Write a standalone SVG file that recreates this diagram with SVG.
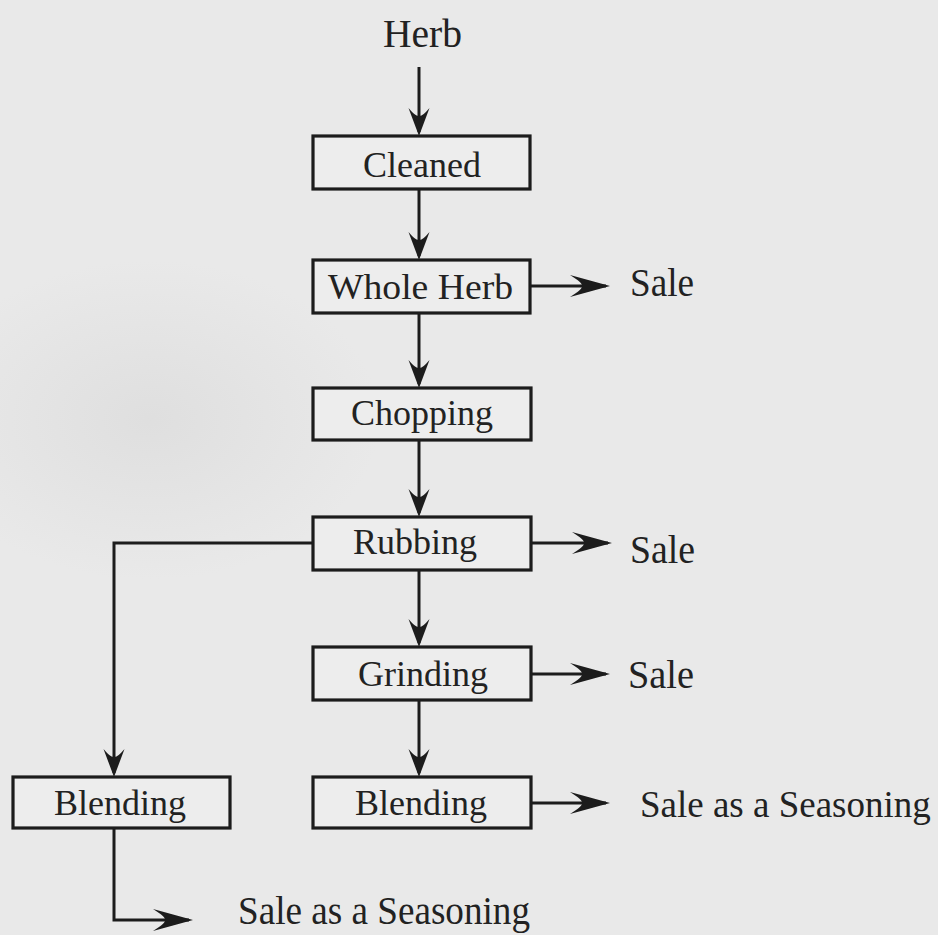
<svg xmlns="http://www.w3.org/2000/svg" width="938" height="935" viewBox="0 0 938 935">
<style>
.bg{fill:#e9e9e9}
.box{fill:#ededed;stroke:#1c1c1c;stroke-width:3.2}
.t{font-family:"Liberation Serif","Times New Roman",serif;font-size:36px;fill:#222}
.o{font-size:40px}
.c{text-anchor:middle}
.ln{fill:none;stroke:#1c1c1c;stroke-width:3}
.v{marker-end:url(#av)}
.h{marker-end:url(#ah)}
</style>
<defs>
<radialGradient id="smudge" cx="0.5" cy="0.5" r="0.5">
<stop offset="0" stop-color="#d8d8d8" stop-opacity="0.6"/>
<stop offset="1" stop-color="#d8d8d8" stop-opacity="0"/>
</radialGradient>
<marker id="av" markerUnits="userSpaceOnUse" orient="auto" refX="-4" refY="0" markerWidth="40" markerHeight="30" overflow="visible">
<path d="M0,0 L-28,-10.5 Q-19,-3 -20,0 Q-19,3 -28,10.5 Z" fill="#1c1c1c"/>
</marker>
<marker id="ah" markerUnits="userSpaceOnUse" orient="auto" refX="-4" refY="0" markerWidth="50" markerHeight="30" overflow="visible">
<path d="M0,0 L-40,-11 Q-27,-3 -28,0 Q-27,3 -40,11 Z" fill="#1c1c1c"/>
</marker>
</defs>
<rect class="bg" x="0" y="0" width="938" height="935"/>
<ellipse cx="150" cy="420" rx="230" ry="160" fill="url(#smudge)"/>

<g id="connectors">
<path class="ln v" d="M419,67 V132"/>
<path class="ln v" d="M419,189 V256"/>
<path class="ln v" d="M419,313 V384"/>
<path class="ln v" d="M419,440 V513"/>
<path class="ln v" d="M419,570 V643"/>
<path class="ln v" d="M419,700 V773"/>
<path class="ln h" d="M530,286 H606"/>
<path class="ln h" d="M531,543 H608"/>
<path class="ln h" d="M531,674 H606"/>
<path class="ln h" d="M531,803 H606"/>
<path class="ln v" d="M313,543 H114 V773"/>
<path class="ln h" d="M114,828 V920 H189"/>
</g>

<g id="herb"><text class="t o" x="383" y="47" textLength="79" lengthAdjust="spacingAndGlyphs">Herb</text></g>
<g id="cleaned"><rect class="box" x="313" y="136" width="217" height="53"/><text class="t c" x="422" y="177">Cleaned</text></g>
<g id="whole-herb"><rect class="box" x="313" y="260" width="217" height="53"/><text class="t" x="328" y="299" textLength="185" lengthAdjust="spacingAndGlyphs">Whole Herb</text></g>
<g id="chopping"><rect class="box" x="313" y="388" width="218" height="52"/><text class="t c" x="422" y="425">Chopping</text></g>
<g id="rubbing"><rect class="box" x="313" y="517" width="218" height="53"/><text class="t c" x="415" y="554">Rubbing</text></g>
<g id="grinding"><rect class="box" x="313" y="647" width="218" height="53"/><text class="t c" x="423" y="686">Grinding</text></g>
<g id="blending-center"><rect class="box" x="313" y="777" width="218" height="51"/><text class="t c" x="421" y="815">Blending</text></g>
<g id="blending-left"><rect class="box" x="13" y="777" width="217" height="51"/><text class="t c" x="120" y="815">Blending</text></g>

<g id="sale-1"><text class="t o" x="630" y="296" textLength="64" lengthAdjust="spacingAndGlyphs">Sale</text></g>
<g id="sale-2"><text class="t o" x="630" y="563" textLength="65" lengthAdjust="spacingAndGlyphs">Sale</text></g>
<g id="sale-3"><text class="t o" x="628" y="688" textLength="66" lengthAdjust="spacingAndGlyphs">Sale</text></g>
<g id="sale-seasoning-right"><text class="t" x="640" y="817" style="font-size:37px">Sale as a Seasoning</text></g>
<g id="sale-seasoning-bottom"><text class="t o" x="238" y="924" textLength="292" lengthAdjust="spacingAndGlyphs">Sale as a Seasoning</text></g>
</svg>
